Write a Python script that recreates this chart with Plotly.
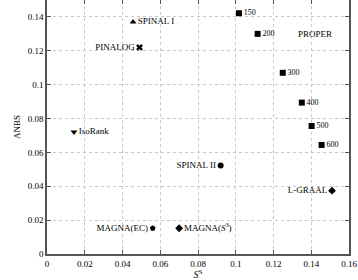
import plotly.graph_objects as go

methods = ["SPINAL I", "PINALOG", "IsoRank", "SPINAL II", "L-GRAAL", "MAGNA(EC)", "MAGNA(<i>S</i><sup>3</sup>)"]
method_s3 = [0.0456, 0.049, 0.0143, 0.092, 0.151, 0.056, 0.070]
method_anbs = [0.137, 0.122, 0.072, 0.0522, 0.0374, 0.0152, 0.0152]
method_symbols = ["triangle-up", "x", "triangle-down", "circle", "diamond", "pentagon", "diamond"]
method_textpos = ["middle right", "middle left", "middle right", "middle left", "middle left", "middle left", "middle right"]

proper_labels = ["150", "200", "300", "400", "500", "600"]
proper_s3 = [0.1017, 0.1116, 0.1249, 0.135, 0.1402, 0.1455]
proper_anbs = [0.1422, 0.130, 0.107, 0.0894, 0.0756, 0.0644]

xticks = [0, 0.02, 0.04, 0.06, 0.08, 0.1, 0.12, 0.14, 0.16]
yticks = [0, 0.02, 0.04, 0.06, 0.08, 0.1, 0.12, 0.14]
tick_text = lambda v: "0" if v == 0 else ("%g" % v)

font = "Liberation Serif"

fig = go.Figure()
fig.add_trace(go.Scatter(
    x=method_s3, y=method_anbs, mode="markers+text",
    text=methods, textposition=method_textpos,
    marker=dict(symbol=method_symbols, size=6, color="black", line=dict(width=0)),
    textfont=dict(family=font, size=9, color="black"),
    cliponaxis=False, showlegend=False))
fig.add_trace(go.Scatter(
    x=proper_s3, y=proper_anbs, mode="markers+text",
    text=proper_labels, textposition="middle right",
    marker=dict(symbol="square", size=6, color="black"),
    textfont=dict(family=font, size=8, color="black"),
    cliponaxis=False, showlegend=False))
fig.add_annotation(x=0.142, y=0.130, text="PROPER", showarrow=False,
                   font=dict(family=font, size=9, color="black"))

axis_common = dict(showgrid=True, gridcolor="#c8c8c8", griddash="dot", gridwidth=1,
                   showline=True, linecolor="#555555", linewidth=1.5, mirror="ticks",
                   ticks="inside", ticklen=4, tickcolor="#555555", tickwidth=1.2,
                   zeroline=False, automargin=False,
                   tickfont=dict(family=font, size=9, color="black"))

fig.update_xaxes(range=[0, 0.16], tickvals=xticks, ticktext=[tick_text(v) for v in xticks],
                 title=dict(text="<i>S</i><sup>S</sup>", font=dict(family=font, size=10, color="black"), standoff=1),
                 **axis_common)
fig.update_yaxes(range=[0, 0.15], tickvals=yticks, ticktext=[tick_text(v) for v in yticks],
                 title=dict(text="ANBS", font=dict(family=font, size=9, color="black"), standoff=6),
                 **axis_common)

fig.update_layout(width=358, height=280, margin=dict(l=47, r=9, t=0, b=26),
                  plot_bgcolor="white", paper_bgcolor="white")

fig.write_html("out.html", config={"displayModeBar": False},
               post_script="document.body.style.margin='0';document.body.style.overflow='hidden';")
